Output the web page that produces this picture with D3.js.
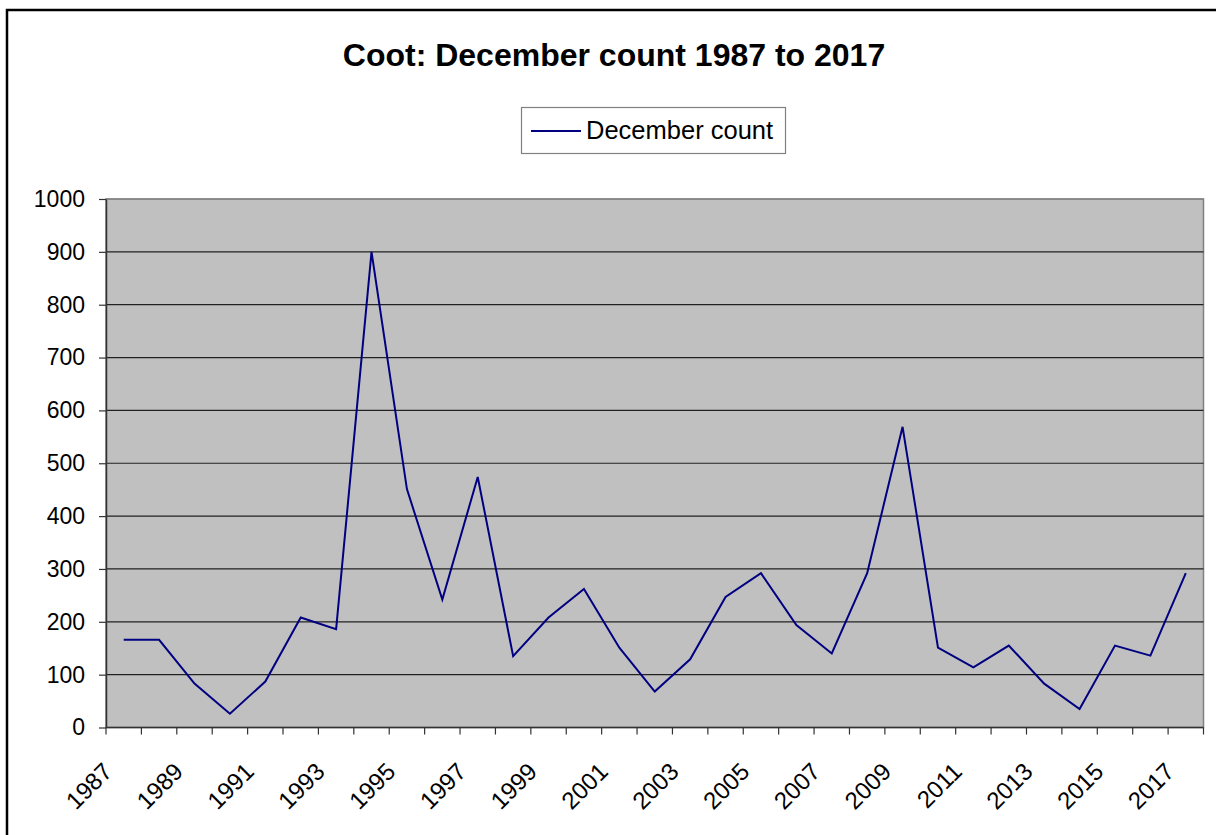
<!DOCTYPE html>
<html>
<head>
<meta charset="utf-8">
<script src="https://cdn.jsdelivr.net/npm/d3@7"></script>
<style>
  html, body { margin: 0; padding: 0; background: #fff; }
  svg { display: block; font-family: "Liberation Sans", Arial, sans-serif; }
</style>
</head>
<body>
<svg id="chart" width="1216" height="835"></svg>
<script>
const years = ["1987","1988","1989","1990","1991","1992","1993","1994","1995","1996","1997","1998","1999","2000","2001","2002","2003","2004","2005","2006","2007","2008","2009","2010","2011","2012","2013","2014","2015","2016","2017"];
const decemberCount = [166,166,83,26,87,208,186,900,451,242,474,135,208,262,151,68,129,247,292,194,140,292,569,151,114,155,83,35,155,136,292];
const yTicks = [0,100,200,300,400,500,600,700,800,900,1000];
const xTickLabels = ["1987","1989","1991","1993","1995","1997","1999","2001","2003","2005","2007","2009","2011","2013","2015","2017"];
const seriesName = "December count";
const titleText = "Coot: December count 1987 to 2017";

const svg = d3.select("#chart");
const plot = { left: 106, right: 1203.5, top: 199, bottom: 727.5 };

// outer chart border (extends past the right and bottom of the frame)
svg.append("rect")
  .attr("x", 7).attr("y", 10).attr("width", 1240).attr("height", 860)
  .attr("fill", "none").attr("stroke", "#000").attr("stroke-width", 2.5);

const x = d3.scaleBand().domain(years).range([plot.left, plot.right]).padding(0);
const y = d3.scaleLinear().domain([0, 1000]).range([plot.bottom, plot.top]);

// plot background
svg.append("rect")
  .attr("x", plot.left).attr("y", plot.top)
  .attr("width", plot.right - plot.left).attr("height", plot.bottom - plot.top)
  .attr("fill", "#c0c0c0").attr("stroke", "#808080").attr("stroke-width", 1.5);

// gridlines
svg.append("g").selectAll("line").data(yTicks.filter(d => d > 0)).join("line")
  .attr("x1", plot.left).attr("x2", plot.right)
  .attr("y1", d => y(d)).attr("y2", d => y(d))
  .attr("stroke", d => d === 1000 ? "#808080" : "#222").attr("stroke-width", 1.2);

// y axis
const yAxis = d3.axisLeft(y).tickValues(yTicks).tickFormat(d3.format("d"))
  .tickSize(7).tickPadding(14).tickSizeOuter(0);
const gy = svg.append("g").attr("transform", `translate(${plot.left},0)`).call(yAxis);
gy.attr("font-size", null).attr("font-family", null);
gy.select(".domain").attr("stroke", "#333").attr("stroke-width", 1.5);
gy.selectAll(".tick line").attr("stroke", "#333").attr("stroke-width", 1.2);
gy.selectAll(".tick text").attr("font-size", 23).attr("fill", "#000");

// x axis: ticks at category boundaries
const boundaries = years.map(d => x(d)).concat([plot.right]);
svg.append("line").attr("x1", plot.left).attr("x2", plot.right)
  .attr("y1", plot.bottom).attr("y2", plot.bottom)
  .attr("stroke", "#333").attr("stroke-width", 1.5);
svg.append("g").selectAll("line").data(boundaries).join("line")
  .attr("x1", d => d).attr("x2", d => d)
  .attr("y1", plot.bottom).attr("y2", plot.bottom + 7)
  .attr("stroke", "#333").attr("stroke-width", 1.2);

svg.append("g").selectAll("text").data(xTickLabels).join("text")
  .attr("transform", d => `translate(${x(d) + x.bandwidth() / 2 - 10},773) rotate(-45)`)
  .attr("text-anchor", "end")
  .attr("font-size", 24)
  .attr("fill", "#000")
  .text(d => d);

// line
const line = d3.line()
  .x((d, i) => x(years[i]) + x.bandwidth() / 2)
  .y(d => y(d));
svg.append("path").datum(decemberCount)
  .attr("d", line)
  .attr("fill", "none").attr("stroke", "#000080").attr("stroke-width", 2)
  .attr("stroke-linejoin", "miter");

// title
svg.append("text").attr("x", 614).attr("y", 66)
  .attr("text-anchor", "middle").attr("font-size", 32).attr("font-weight", "bold")
  .attr("fill", "#000").text(titleText);

// legend
const lg = svg.append("g");
lg.append("rect").attr("x", 521.5).attr("y", 107.5).attr("width", 264).attr("height", 46)
  .attr("fill", "#fff").attr("stroke", "#808080").attr("stroke-width", 1.2);
lg.append("line").attr("x1", 531).attr("x2", 581).attr("y1", 131).attr("y2", 131)
  .attr("stroke", "#000080").attr("stroke-width", 2);
lg.append("text").attr("x", 586).attr("y", 139)
  .attr("font-size", 25.5).attr("fill", "#000").text(seriesName);
</script>
</body>
</html>
